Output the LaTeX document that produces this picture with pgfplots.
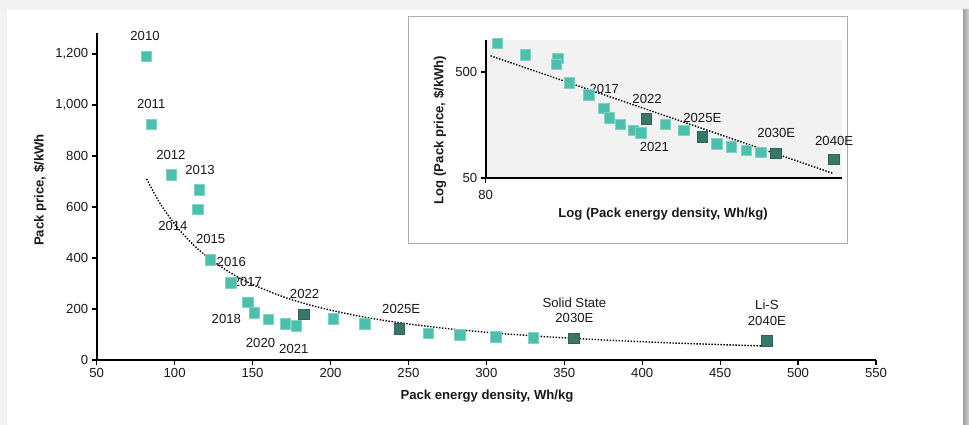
\documentclass[border=0pt]{standalone}
\usepackage{pgfplots}
\pgfplotsset{compat=1.18}
\usepackage{fontspec}
\setmainfont{Liberation Sans}
\definecolor{lt}{HTML}{4CBFAD}
\definecolor{ltb}{HTML}{7ED3C5}
\definecolor{dk}{HTML}{3A776B}
\definecolor{dkb}{HTML}{2E6357}
\definecolor{txt}{HTML}{1A1A1A}
\newcommand{\lbl}{\fontsize{13.2}{15}\selectfont}
\pgfplotstableread{
x y
82 1190
85 923
98 725
116 667
115 591
123 393
136 303
147 226
151 185
160 160
171 141
178 133
202 161
222 141
263 105
283 98
306 91
330 87
}\light
\pgfplotstableread{
x y
183 180
244 122
356 85
480 75
}\dark
\pgfplotstableread{
x y
85 923
98 725
116 667
115 591
123 393
136 303
147 226
151 185
160 160
171 141
178 133
202 161
222 141
263 105
283 98
306 91
330 87
}\lightin
\pgfplotstableread{
x y
82 710
90 620.5
100 532.6
110 464.0
120 409.1
135 344.9
150 296.1
170 247.1
190 210.3
215 175.9
240 150.0
270 126.4
300 108.5
340 90.6
380 77.1
420 66.7
460 58.4
478 55.3
}\trend
\pgfplotsset{
  common/.style={
    scale only axis,
    clip=false,
    axis lines*=left,
    axis line style={black, line width=1.6bp},
    tick align=outside,
    major tick length=5bp,
    every tick/.style={black, line width=1.2bp},
    tick label style={font=\lbl, text=txt},
    /pgf/number format/assume math mode=true,
    /pgf/number format/1000 sep={,},
  },
  lmark/.style={only marks, mark=square*, mark size=5.2bp, mark options={fill=lt, draw=ltb, line width=0.8bp}},
  dmark/.style={only marks, mark=square*, mark size=5.2bp, mark options={fill=dk, draw=dkb, line width=0.6bp}},
  tline/.style={black, line width=1.4bp, dash pattern=on 1.4bp off 1.6bp, smooth},
}
\begin{document}
\begin{tikzpicture}
\fill[gray!10] (0bp,0bp) rectangle (969bp,425bp);
\shade[left color=gray!75, right color=gray!35] (963bp,0bp) rectangle (969bp,415bp);
\fill[white] (7bp,0bp) rectangle (963bp,415bp);

% main chart
\begin{axis}[common,
  at={(96.7bp,65bp)}, anchor=south west,
  width=779.3bp, height=327bp,
  xmin=50, xmax=550, ymin=0, ymax=1282,
  xtick={50,100,...,550}, ytick={0,200,...,1200},
]
\addplot[lmark] table[x=x,y=y] {\light};
\addplot[dmark] table[x=x,y=y] {\dark};
\addplot[tline] table[x=x,y=y] {\trend};
\node[font=\lbl, text=txt] at (axis cs:81,1271) {2010};
\node[font=\lbl, text=txt] at (axis cs:85,1004) {2011};
\node[font=\lbl, text=txt] at (axis cs:97.6,804) {2012};
\node[font=\lbl, text=txt] at (axis cs:116.3,745) {2013};
\node[font=\lbl, text=txt] at (axis cs:98.9,525) {2014};
\node[font=\lbl, text=txt] at (axis cs:123.1,475) {2015};
\node[font=\lbl, text=txt] at (axis cs:136.4,384) {2016};
\node[font=\lbl, text=txt] at (axis cs:146.7,306) {2017};
\node[font=\lbl, text=txt] at (axis cs:133.2,161) {2018};
\node[font=\lbl, text=txt] at (axis cs:155.1,67) {2020};
\node[font=\lbl, text=txt] at (axis cs:176.5,43) {2021};
\node[font=\lbl, text=txt] at (axis cs:183.4,259) {2022};
\node[font=\lbl, text=txt] at (axis cs:245.4,200) {2025E};
\node[font=\lbl, text=txt] at (axis cs:356.5,224) {Solid State};
\node[font=\lbl, text=txt] at (axis cs:356.5,165) {2030E};
\node[font=\lbl, text=txt] at (axis cs:480,216) {Li-S};
\node[font=\lbl, text=txt] at (axis cs:480,153) {2040E};
\end{axis}
\node[font=\lbl\bfseries, text=txt] at (487bp,29bp) {Pack energy density, Wh/kg};
\node[font=\lbl\bfseries, text=txt, rotate=90] at (40bp,235bp) {Pack price, \$/kWh};

% inset
\draw[fill=white, draw=gray!65, line width=1bp] (408bp,181bp) rectangle (847bp,408bp);
\begin{axis}[common,
  at={(485.7bp,247bp)}, anchor=south west,
  width=356bp, height=138bp,
  xmode=log, ymode=log,
  xmin=80, xmax=500, ymin=50, ymax=1000,
  xtick={80}, xticklabels={80},
  ytick={50,500}, yticklabels={50,500},
  xminorticks=false, yminorticks=false,
  axis background/.style={fill=gray!10},
  xticklabel style={yshift=-4bp},
]
\addplot[lmark] table[x=x,y=y] {\lightin};
\addplot[dmark] table[x=x,y=y] {\dark};
\addplot[tline] table[x=x,y=y] {\trend};
\node[font=\lbl, text=txt] at (axis cs:147.3,347) {2017};
\node[font=\lbl, text=txt] at (axis cs:183.6,278) {2022};
\node[font=\lbl, text=txt] at (axis cs:190.7,98) {2021};
\node[font=\lbl, text=txt] at (axis cs:244,186) {2025E};
\node[font=\lbl, text=txt] at (axis cs:357,132) {2030E};
\node[font=\lbl, text=txt] at (axis cs:481,112) {2040E};
\end{axis}
\node[font=\lbl\bfseries, text=txt] at (663bp,211bp) {Log (Pack energy density, Wh/kg)};
\node[font=\lbl\bfseries, text=txt, rotate=90] at (440bp,295bp) {Log (Pack price, \$/kWh)};
\end{tikzpicture}
\end{document}
